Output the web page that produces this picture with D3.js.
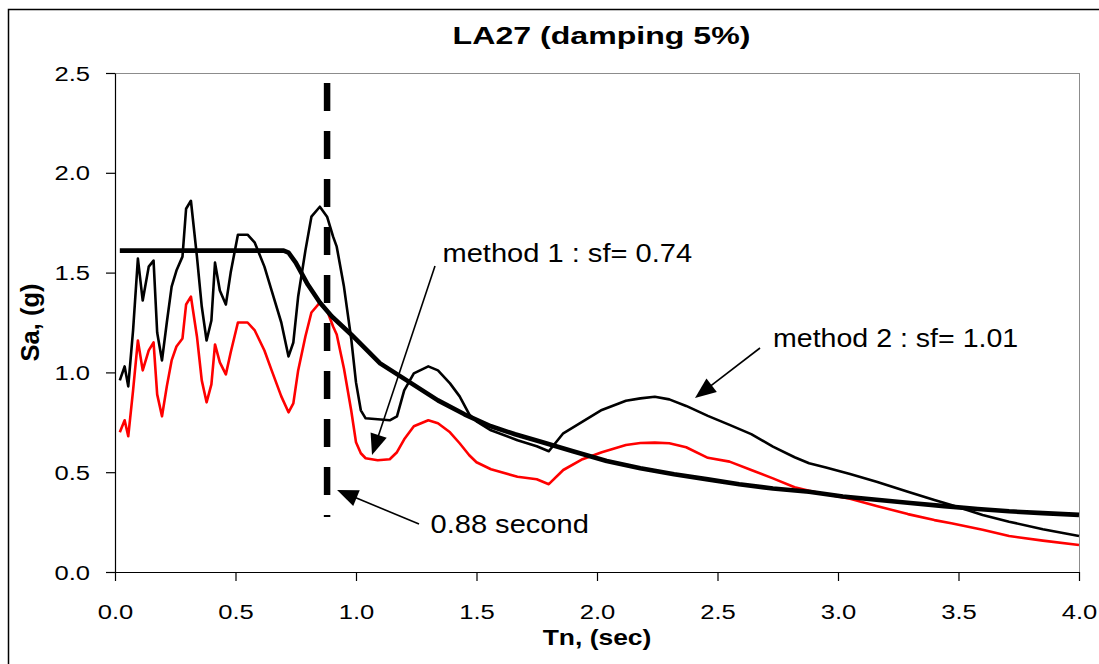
<!DOCTYPE html>
<html>
<head>
<meta charset="utf-8">
<script src="https://cdn.jsdelivr.net/npm/d3@7"></script>
<style>
  body { margin: 0; background: #fff; }
  svg { display: block; }
</style>
</head>
<body>
<svg id="chart" width="1099" height="664"></svg>
<script>
// Periods (sec) shared by the two scaled spectra
const periods = [
  0.02, 0.04, 0.055, 0.075, 0.095, 0.115, 0.14, 0.16, 0.175, 0.195,
  0.215, 0.235, 0.255, 0.28, 0.295, 0.315, 0.34, 0.36, 0.38, 0.40,
  0.415, 0.435, 0.46, 0.48, 0.51, 0.55, 0.58, 0.62, 0.65, 0.69,
  0.72, 0.74, 0.76, 0.79, 0.815, 0.85, 0.88, 0.905, 0.92, 0.95,
  0.98, 1.00, 1.02, 1.04, 1.09, 1.14, 1.17, 1.20, 1.24, 1.30,
  1.34, 1.39, 1.43, 1.47, 1.50, 1.56, 1.67, 1.75, 1.80, 1.86,
  1.94, 2.02, 2.12, 2.18, 2.24, 2.30, 2.37, 2.46, 2.55, 2.64,
  2.73, 2.82, 2.88, 2.95, 3.05, 3.16, 3.29, 3.40, 3.47, 3.60,
  3.71, 3.85, 4.00
];

// Method 2 (sf = 1.01), black thin line
const saMethod2 = [
  0.96, 1.03, 0.93, 1.21, 1.57, 1.36, 1.53, 1.56, 1.20, 1.06,
  1.25, 1.43, 1.51, 1.58, 1.82, 1.86, 1.58, 1.33, 1.16, 1.26,
  1.55, 1.41, 1.34, 1.50, 1.69, 1.69, 1.65, 1.53, 1.41, 1.25,
  1.08, 1.15, 1.38, 1.61, 1.78, 1.83, 1.78, 1.68, 1.63, 1.43,
  1.17, 0.95, 0.81, 0.77, 0.765, 0.76, 0.78, 0.91, 0.995, 1.03,
  1.01, 0.945, 0.88, 0.79, 0.755, 0.71, 0.66, 0.63, 0.605, 0.695,
  0.753, 0.812, 0.858, 0.870, 0.878, 0.865, 0.832, 0.782, 0.737, 0.691,
  0.628, 0.575, 0.545, 0.524, 0.491, 0.452, 0.402, 0.361, 0.336, 0.286,
  0.252, 0.214, 0.180
];

// Method 1 (sf = 0.74), red line
const saMethod1 = [
  0.70, 0.76, 0.68, 0.91, 1.16, 1.01, 1.11, 1.15, 0.89, 0.78,
  0.93, 1.06, 1.13, 1.17, 1.34, 1.38, 1.18, 0.96, 0.85, 0.94,
  1.14, 1.05, 0.99, 1.10, 1.25, 1.25, 1.21, 1.11, 1.01, 0.88,
  0.80, 0.845, 1.01, 1.18, 1.30, 1.35, 1.31, 1.23, 1.19, 1.02,
  0.81, 0.65, 0.595, 0.57, 0.56, 0.565, 0.60, 0.665, 0.73, 0.76,
  0.745, 0.70, 0.645, 0.585, 0.55, 0.515, 0.477, 0.465, 0.44, 0.511,
  0.565, 0.60, 0.636, 0.646, 0.648, 0.645, 0.625, 0.572, 0.553, 0.511,
  0.469, 0.425, 0.407, 0.39, 0.367, 0.331, 0.29, 0.26, 0.244, 0.212,
  0.180, 0.157, 0.135
];

// Target spectrum, thick black line
const targetPeriods = [
  0.02, 0.70, 0.72, 0.75, 0.80, 0.85, 0.90, 0.98, 1.10, 1.23,
  1.34, 1.45, 1.56, 1.66, 1.76, 1.90, 2.04, 2.18, 2.32, 2.46,
  2.59, 2.73, 2.88, 3.02, 3.16, 3.30, 3.44, 3.58, 3.71, 3.85,
  4.00
];
const targetSa = [
  1.61, 1.61, 1.60, 1.55, 1.44, 1.35, 1.28, 1.19, 1.045, 0.945,
  0.86, 0.79, 0.73, 0.69, 0.655, 0.605, 0.556, 0.52, 0.49, 0.464,
  0.44, 0.418, 0.402, 0.378, 0.362, 0.346, 0.330, 0.316, 0.304, 0.295,
  0.286
];

const xTicks = [0, 0.5, 1.0, 1.5, 2.0, 2.5, 3.0, 3.5, 4.0];
const yTicks = [0, 0.5, 1.0, 1.5, 2.0, 2.5];

const markedPeriod = 0.88;          // vertical dashed marker (sec)
const markerRange = [0.275, 2.45];  // Sa span of the marker

const titleText = "LA27 (damping 5%)";
const xTitle = "Tn, (sec)";
const yTitle = "Sa, (g)";
const noteMethod1 = "method 1 : sf= 0.74";
const noteMethod2 = "method 2 : sf= 1.01";
const notePeriod = "0.88 second";

const FONT = "'Liberation Sans', Arial, Helvetica, sans-serif";

const svg = d3.select("#chart");

// outer chart frame
svg.append("rect")
  .attr("x", 8.5).attr("y", 9.5)
  .attr("width", 1200).attr("height", 800)
  .attr("fill", "none").attr("stroke", "#000").attr("stroke-width", 1.5);

const x = d3.scaleLinear().domain([0, 4]).range([115, 1079]);
const y = d3.scaleLinear().domain([0, 2.5]).range([572, 73]);

// horizontally widened text
function wideText(parent, px, py, str, o) {
  const g = parent.append("g")
    .attr("transform", `translate(${px},${py}) ${o.rotate ? "rotate(" + o.rotate + ")" : ""} scale(${o.sx || 1},${o.sy || 1})`);
  return g.append("text")
    .attr("x", 0).attr("y", 0)
    .attr("text-anchor", o.anchor || "start")
    .attr("font-family", FONT)
    .attr("font-size", o.size)
    .attr("font-weight", o.weight || "normal")
    .attr("fill", "#000")
    .text(str);
}

// plot area top/right edges
svg.append("line")
  .attr("x1", x(0)).attr("x2", x(4)).attr("y1", y(2.5) + 0.5).attr("y2", y(2.5) + 0.5)
  .attr("stroke", "#8c8c8c").attr("stroke-width", 1);
svg.append("line")
  .attr("x1", x(4) + 0.5).attr("x2", x(4) + 0.5).attr("y1", y(2.5)).attr("y2", y(0))
  .attr("stroke", "#8c8c8c").attr("stroke-width", 1);

// axes
const gx = svg.append("g")
  .attr("transform", `translate(0,${y(0)})`)
  .call(d3.axisBottom(x).tickValues(xTicks).tickFormat(d3.format(".1f"))
    .tickSize(9).tickSizeOuter(0));
gx.selectAll(".tick text")
  .attr("y", 0).attr("dy", 0)
  .attr("font-family", FONT).attr("font-size", 20).attr("fill", "#000")
  .attr("transform", "translate(0,47) scale(1.28,1)");

const gy = svg.append("g")
  .attr("transform", `translate(${x(0)},0)`)
  .call(d3.axisLeft(y).tickValues(yTicks).tickFormat(d3.format(".1f"))
    .tickSize(9).tickSizeOuter(0));
gy.selectAll(".tick text")
  .attr("x", 0).attr("dy", 7)
  .attr("font-family", FONT).attr("font-size", 20).attr("fill", "#000")
  .attr("transform", "translate(-25,0) scale(1.28,1)");

[gx, gy].forEach(g => {
  g.select(".domain").attr("stroke", "#000").attr("stroke-width", 1.2);
  g.selectAll(".tick line").attr("stroke", "#000").attr("stroke-width", 1.2);
});

// spectra
const recLine = d3.line()
  .x((d, i) => x(periods[i]))
  .y(d => y(d));

svg.append("path")
  .datum(saMethod1)
  .attr("d", recLine)
  .attr("fill", "none").attr("stroke", "#ff0000")
  .attr("stroke-width", 2.6).attr("stroke-linejoin", "round");

svg.append("path")
  .datum(saMethod2)
  .attr("d", recLine)
  .attr("fill", "none").attr("stroke", "#000")
  .attr("stroke-width", 2.6).attr("stroke-linejoin", "round");

svg.append("path")
  .datum(targetSa)
  .attr("d", d3.line().x((d, i) => x(targetPeriods[i])).y(d => y(d)))
  .attr("fill", "none").attr("stroke", "#000")
  .attr("stroke-width", 4.6).attr("stroke-linejoin", "round");

// dashed period marker
svg.append("line")
  .attr("x1", x(markedPeriod)).attr("x2", x(markedPeriod))
  .attr("y1", y(markerRange[1])).attr("y2", y(markerRange[0]))
  .attr("stroke", "#000").attr("stroke-width", 6.5)
  .attr("stroke-dasharray", "28,20");

// arrows
function arrow(x1, y1, x2, y2) {
  const dx = x2 - x1, dy = y2 - y1;
  const len = Math.hypot(dx, dy);
  const ux = dx / len, uy = dy / len;
  const hl = 21, hw = 8.5;
  const bx = x2 - ux * hl, by = y2 - uy * hl;
  svg.append("line")
    .attr("x1", x1).attr("y1", y1).attr("x2", bx + ux * 2).attr("y2", by + uy * 2)
    .attr("stroke", "#000").attr("stroke-width", 1.6);
  svg.append("path")
    .attr("d", `M${x2},${y2}L${bx - uy * hw},${by + ux * hw}L${bx + uy * hw},${by - ux * hw}Z`)
    .attr("fill", "#000");
}

arrow(435, 266, 372, 455);
arrow(760, 348, 695, 398);
arrow(419, 524, x(markedPeriod) + 10, 490);

// annotations
wideText(svg, 442.5, 261.5, noteMethod1, { size: 25.5, sx: 1.14 });
wideText(svg, 773, 346.5, noteMethod2, { size: 25.5, sx: 1.12 });
wideText(svg, 430.5, 533, notePeriod, { size: 25.5, sx: 1.14 });

// titles
wideText(svg, 601.5, 43.5, titleText, { size: 24.5, weight: "bold", sx: 1.31, anchor: "middle" });
wideText(svg, 597, 645, xTitle, { size: 21.5, weight: "bold", sx: 1.23, anchor: "middle" });
wideText(svg, 39, 322.5, yTitle, { size: 25.5, weight: "bold", rotate: -90, anchor: "middle" });
</script>
</body>
</html>
